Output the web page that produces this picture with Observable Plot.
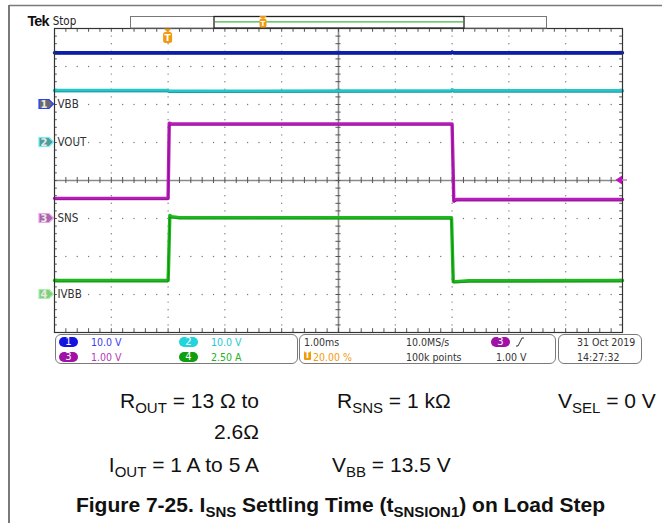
<!DOCTYPE html>
<html><head><meta charset="utf-8">
<script src="https://cdn.jsdelivr.net/npm/d3@7"></script>
<script src="https://cdn.jsdelivr.net/npm/@observablehq/plot@0.6"></script>
<style>
body{margin:0;background:#fff;font-family:"Liberation Sans",Arial,sans-serif;}
#wrap{position:relative;width:662px;height:523px;overflow:hidden;background:#fff;}
.abs{position:absolute;white-space:nowrap;}
.box{position:absolute;border:1px solid #7a7a7a;border-radius:6px;box-sizing:border-box;}
.st{position:absolute;white-space:nowrap;font-family:"DejaVu Sans Condensed","DejaVu Sans","Liberation Sans",sans-serif;font-size:10.5px;line-height:12px;color:#333;}
.pill{position:absolute;width:19px;height:10px;border-radius:5px;color:#fff;font-size:10px;line-height:10px;text-align:center;font-family:"DejaVu Sans",sans-serif;}
.cap{position:absolute;white-space:nowrap;font-size:21px;line-height:24px;color:#111;}
.cap sub{font-size:15px;vertical-align:-5px;line-height:0;}
</style></head><body><div id="wrap"></div>
<script>
// ---- data ----
const channelIds = [1, 2, 3, 4];
const channelNames = ["VBB", "VOUT", "SNS", "IVBB"];
const channelOffsetsDiv = [2, 1, -1, -3];      // ground marker position (divisions)
const channelScales = [10.0, 10.0, 1.00, 2.50]; // units per division
const channelScaleLabels = ["10.0 V", "10.0 V", "1.00 V", "2.50 A"];
const channelColors = ["#0d1fb0", "#25c6c9", "#b81cbc", "#1db81d"];
const channelEdgeColors = ["#06106e", "#16898c", "#7e0f82", "#0c7f0c"];

// CH1 VBB (V)
const vbbTime = [-2, 4.99, 5.0, 5.03, 8];
const vbbValue = [13.6, 13.6, 13.8, 13.6, 13.6];
// CH2 VOUT (V)
const voutTime = [-2, 0, 0.01, 4.99, 5.0, 5.03, 8];
const voutValue = [13.7, 13.7, 13.5, 13.6, 13.9, 13.6, 13.6];
// CH3 SNS (V)
const snsTime = [-2, 0, 0.02, 0.05, 5.0, 5.03, 5.08, 8];
const snsValue = [0.53, 0.53, 2.51, 2.49, 2.49, 0.46, 0.5, 0.5];
// CH4 IVBB (A)
const ivbbTime = [-2, 0, 0.006, 0.03, 0.06, 0.2, 4.99, 5.02, 5.06, 5.3, 8];
const ivbbValue = [0.92, 0.92, 1.6, 5.2, 5.12, 5.06, 5.05, 0.85, 0.85, 0.9, 0.92];

const timeDomainMs = [-2, 8];   // 1.00 ms/div, trigger at 20 %
const divDomain = [-4, 4];
const triggerTimeMs = 0;
const triggerLevelV = 1.00;
const triggerChannel = 3;

const statusTimebase = "1.00ms";
const statusSampleRate = "10.0MS/s";
const statusRecord = "100k points";
const statusTrigPos = "20.00 %";
const statusTrigLevel = "1.00 V";
const statusDate = "31 Oct  2019";
const statusTime = "14:27:32";

// ---- build ----
const series = [
  [vbbTime, vbbValue], [voutTime, voutValue], [snsTime, snsValue], [ivbbTime, ivbbValue]
].map(([ts, vs], i) => ts.map((t, k) => ({t, div: channelOffsetsDiv[i] + vs[k] / channelScales[i]})));

const minorX = d3.range(0, 51).map(i => timeDomainMs[0] + i * 0.2);
const minorY = d3.range(0, 41).map(i => divDomain[0] + i * 0.2);
const majorX = d3.range(-1, 8).filter(v => v !== 3);
const majorY = d3.range(-3, 4).filter(v => v !== 0);
const gridDots = [
  ...majorY.flatMap(y => minorX.map(x => ({x, y}))),
  ...majorX.flatMap(x => minorY.map(y => ({x, y})))
];
const labels = channelIds.map((id, i) => ({id, name: channelNames[i], off: channelOffsetsDiv[i]}));

const traceMarks = series.flatMap((s, i) => [
  Plot.line(s, {x: "t", y: "div", stroke: channelColors[i], strokeWidth: 3.4, curve: "linear"}),
  Plot.line(s, {x: "t", y: "div", stroke: channelEdgeColors[i], strokeWidth: 0.9, dy: 1.4, strokeOpacity: 0.8})
]);

const chart = Plot.plot({
  width: 662, height: 372,
  marginLeft: 54, marginRight: 40, marginTop: 28, marginBottom: 40,
  x: {domain: timeDomainMs, axis: null},
  y: {domain: divDomain, axis: null},
  style: {background: "transparent", overflow: "visible"},
  marks: [
    Plot.dot(gridDots, {x: "x", y: "y", r: 0.7, fill: "#7a7a7a", stroke: null}),
    Plot.ruleY([0], {stroke: "#8a8a8a", strokeWidth: 1.6}),
    Plot.ruleX([3], {stroke: "#8a8a8a", strokeWidth: 1.6}),
    Plot.ruleX(minorX, {x: d => d, y1: -0.08, y2: 0.08, stroke: "#555", strokeWidth: 1}),
    Plot.ruleY(minorY, {y: d => d, x1: 2.955, x2: 3.045, stroke: "#555", strokeWidth: 1}),
    Plot.ruleX(minorX, {x: d => d, y1: 4, y2: 3.9, stroke: "#555", strokeWidth: 1}),
    Plot.ruleX(minorX, {x: d => d, y1: -4, y2: -3.9, stroke: "#555", strokeWidth: 1}),
    Plot.ruleY(minorY, {y: d => d, x1: -2, x2: -1.95, stroke: "#555", strokeWidth: 1}),
    Plot.ruleY(minorY, {y: d => d, x1: 8, x2: 7.95, stroke: "#555", strokeWidth: 1}),
    ...traceMarks,
    Plot.frame({stroke: "#333", strokeWidth: 1.2}),
    Plot.text(labels, {x: timeDomainMs[0], y: "off", text: "name", dx: 3, textAnchor: "start",
      fontSize: 11.5, fill: "#333", fontFamily: "DejaVu Sans Condensed, DejaVu Sans, sans-serif"})
  ]
});

const wrap = d3.select("#wrap");
chart.style.position = "absolute"; chart.style.left = "0px"; chart.style.top = "0px";
wrap.node().appendChild(chart);
const svg = d3.select(chart);
const xs = chart.scale("x"), ys = chart.scale("y");

// page frame
svg.append("line").attr("x1", 9).attr("x2", 662).attr("y1", 5.5).attr("y2", 5.5).attr("stroke", "#7a7a7a").attr("stroke-width", 1.5);

// channel ground markers
const markerFill = ["#6a6a6a", "#4f9c9c", "#a869a8", "#7fcf7f"];
const markerStroke = ["#2a3cff", "#6ff0f0", "#f0a0f0", "#a8f0a8"];
labels.forEach((d, i) => {
  const y = ys.apply(d.off);
  svg.append("path").attr("d", `M39,${y-4.5} H49 L53.5,${y} L49,${y+4.5} H39 Z`)
    .attr("fill", markerFill[i]).attr("stroke", markerStroke[i]).attr("stroke-width", 1.2);
  svg.append("text").attr("x", 44).attr("y", y + 3.6).attr("text-anchor", "middle")
    .attr("font-size", 10).attr("font-weight", "bold").attr("fill", "#e8e8e8")
    .attr("font-family", "DejaVu Sans, sans-serif").text(d.id);
});

// trigger position marker (top)
const tx = xs.apply(triggerTimeMs);
const orange = "#f29a0e";
function tMarker(cx, top) {
  svg.append("path").attr("d", `M${cx-4},${top} H${cx+4} L${cx},${top+4} Z`).attr("fill", orange);
  svg.append("rect").attr("x", cx - 4.5).attr("y", top + 3.5).attr("width", 9).attr("height", 11).attr("rx", 2.5).attr("fill", orange);
  svg.append("text").attr("x", cx).attr("y", top + 12.5).attr("text-anchor", "middle").attr("font-size", 9)
    .attr("font-weight", "bold").attr("fill", "#fff").attr("font-family", "DejaVu Sans, sans-serif").text("T");
}
tMarker(tx, 28.5);

// trigger level marker (right)
const ly = ys.apply(channelOffsetsDiv[triggerChannel - 1] + triggerLevelV / channelScales[triggerChannel - 1]);
svg.append("line").attr("x1", 616).attr("x2", 627).attr("y1", ly).attr("y2", ly).attr("stroke", "#d27ad2").attr("stroke-width", 1.5);
svg.append("path").attr("d", `M615.5,${ly} L622,${ly-4.5} L622,${ly+4.5} Z`).attr("fill", "#c010c0");

// record bar
svg.append("rect").attr("x", 130.5).attr("y", 16.5).attr("width", 416).attr("height", 11.5).attr("fill", "#fff").attr("stroke", "#777").attr("stroke-width", 1);
svg.append("rect").attr("x", 214).attr("y", 16.5).attr("width", 250).attr("height", 11.5).attr("fill", "#fff").attr("stroke", "#222").attr("stroke-width", 1.3);
svg.append("line").attr("x1", 215).attr("x2", 463).attr("y1", 21.8).attr("y2", 21.8).attr("stroke", "#44b544").attr("stroke-width", 1.2);
svg.append("path").attr("d", `M259,16 H267 L263,19 Z`).attr("fill", orange);
svg.append("rect").attr("x", 259.5).attr("y", 18.5).attr("width", 7).attr("height", 9).attr("rx", 2).attr("fill", orange);
svg.append("text").attr("x", 263).attr("y", 26).attr("text-anchor", "middle").attr("font-size", 7).attr("font-weight", "bold").attr("fill", "#fff").attr("font-family", "DejaVu Sans, sans-serif").text("T");

// Tek Stop
svg.append("text").attr("x", 38).attr("y", 25.5).attr("font-size", 14.5).attr("font-weight", "bold")
  .attr("font-family", "Liberation Sans, Arial, sans-serif").attr("fill", "#111").attr("letter-spacing", -0.9).text("Tek");
svg.append("text").attr("x", 64.5).attr("y", 25).attr("font-size", 11.5)
  .attr("font-family", "DejaVu Sans Condensed, DejaVu Sans, sans-serif").attr("fill", "#222").text("Stop");

// ---- HTML overlays: page left border, status panel, caption ----
const W = wrap.node();
function add(html) { W.insertAdjacentHTML("beforeend", html); }
add(`<div class="abs" style="left:8px;top:5px;width:1.5px;height:520px;background:#7a7a7a"></div>`);
add(`<div class="box" style="left:55px;top:334px;width:243px;height:30px"></div>`);
add(`<div class="box" style="left:299px;top:334px;width:257px;height:30px"></div>`);
add(`<div class="box" style="left:558px;top:334px;width:84px;height:30px"></div>`);
const pillColors = ["#1414e0", "#22d4dc", "#a012a6", "#0e9e0e"];
const textColors = ["#3c3cf0", "#1fc8d6", "#b33ab3", "#26b026"];
const pillPos = [[59, 336.5], [179, 336.5], [59, 351.5], [179, 351.5]];
channelIds.forEach((id, i) => {
  const [px, py] = pillPos[i];
  add(`<div class="pill" style="left:${px}px;top:${py}px;background:${pillColors[i]}">${id}</div>`);
  add(`<div class="st" style="left:${px + 32}px;top:${py - 1}px;color:${textColors[i]}">${channelScaleLabels[i]}</div>`);
});
add(`<div class="st" style="left:304px;top:335.5px">${statusTimebase}</div>`);
add(`<div class="st" style="left:406px;top:335.5px">${statusSampleRate}</div>`);
add(`<div class="pill" style="left:491px;top:336.5px;background:#a012a6">${triggerChannel}</div>`);
add(`<svg class="abs" style="left:515px;top:336px" width="10" height="11"><polyline points="1,10 3,10 7,2 9,2" fill="none" stroke="#333" stroke-width="1"/></svg>`);
add(`<div class="abs" style="left:304px;top:351px;width:7px;height:9px;background:${orange};border-radius:1px;color:#fff;font-size:8px;line-height:9px;text-align:center;font-weight:bold;font-family:'DejaVu Sans',sans-serif">T</div>`);
add(`<div class="st" style="left:313px;top:350.5px;color:${orange}">${statusTrigPos}</div>`);
add(`<div class="st" style="left:406px;top:350.5px">${statusRecord}</div>`);
add(`<div class="st" style="left:496px;top:350.5px">${statusTrigLevel}</div>`);
add(`<div class="st" style="left:577px;top:335.5px">${statusDate}</div>`);
add(`<div class="st" style="left:577px;top:350.5px">${statusTime}</div>`);

// conditions text
add(`<div class="cap" style="right:403px;top:389px;text-align:right">R<sub>OUT</sub> = 13 Ω to</div>`);
add(`<div class="cap" style="right:403px;top:420px;text-align:right">2.6Ω</div>`);
add(`<div class="cap" style="right:403px;top:453px;text-align:right">I<sub>OUT</sub> = 1 A to 5 A</div>`);
add(`<div class="cap" style="left:337px;top:389px">R<sub>SNS</sub> = 1 kΩ</div>`);
add(`<div class="cap" style="left:332px;top:453px">V<sub>BB</sub> = 13.5 V</div>`);
add(`<div class="cap" style="left:558px;top:389px">V<sub>SEL</sub> = 0 V</div>`);
add(`<div class="cap" style="left:0;width:681px;top:493px;text-align:center;font-weight:bold">Figure 7-25. I<sub>SNS</sub> Settling Time (t<sub>SNSION1</sub>) on Load Step</div>`);
</script>
</body></html>
